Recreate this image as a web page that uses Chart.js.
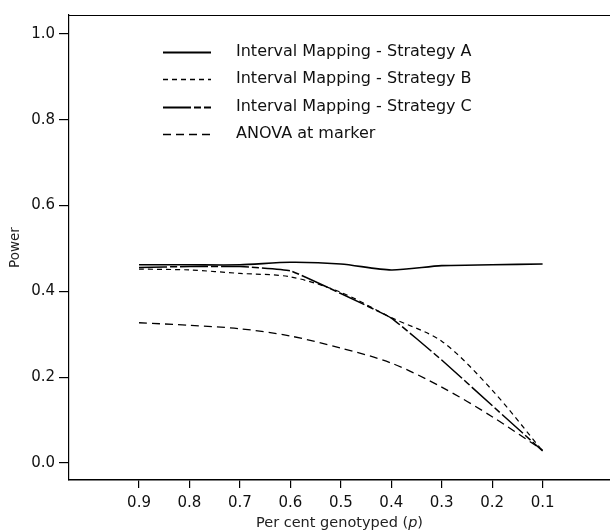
<!DOCTYPE html>
<html><head><meta charset="utf-8">
<script src="https://cdn.jsdelivr.net/npm/chart.js@4.4.0/dist/chart.umd.min.js"></script>
<style>html,body{margin:0;padding:0;background:#fff;} #wrap{width:610px;height:531px;position:relative;}</style>
</head><body><div id="wrap"><canvas id="c" width="610" height="531"></canvas></div>
<script>
// Proportion genotyped (x categories, plotted on a reversed axis)
const proportions = [0.9, 0.8, 0.7, 0.6, 0.5, 0.4, 0.3, 0.2, 0.1];
// Power for each method
const strategyA = [0.462, 0.462, 0.462, 0.468, 0.464, 0.450, 0.460, 0.462, 0.464];
const strategyB = [0.452, 0.450, 0.442, 0.434, 0.398, 0.339, 0.284, 0.170, 0.028];
const strategyC = [0.456, 0.458, 0.458, 0.448, 0.395, 0.338, 0.240, 0.134, 0.028];
const anova     = [0.327, 0.321, 0.313, 0.296, 0.268, 0.233, 0.177, 0.108, 0.030];
const yTicks = [0.0, 0.2, 0.4, 0.6, 0.8, 1.0];
const seriesNames = ["Interval Mapping - Strategy A", "Interval Mapping - Strategy B", "Interval Mapping - Strategy C", "ANOVA at marker"];
const xTitle = ["Per cent genotyped (", "p", ")"];
const yTitle = "Power";

const FONT = "'DejaVu Sans', sans-serif";
const toPts = arr => arr.map((v, i) => ({x: proportions[i], y: v}));

const styles = [
  {borderWidth: 1.6, borderDash: [], tension: 0.25},
  {borderWidth: 1.2, borderDash: [5, 4], tension: 0.3},
  {borderWidth: 1.5, borderDash: [28, 3, 7, 3], tension: 0.1},
  {borderWidth: 1.3, borderDash: [8, 5], tension: 0.3}
];
const seriesData = [strategyA, strategyB, strategyC, anova];

const datasets = seriesData.map((d, i) => Object.assign({
  label: seriesNames[i],
  data: toPts(d),
  borderColor: '#000',
  backgroundColor: '#000',
  pointRadius: 0,
  fill: false
}, styles[i]));

const decor = {
  id: 'decor',
  afterDraw(chart) {
    const ctx = chart.ctx, ca = chart.chartArea;
    ctx.save();
    // top border
    ctx.strokeStyle = '#000'; ctx.lineWidth = 1.2; ctx.setLineDash([]);
    ctx.beginPath(); ctx.moveTo(ca.left, ca.top + 0.5); ctx.lineTo(chart.width, ca.top + 0.5); ctx.stroke();
    // legend
    const rows = [52, 79, 107, 134];
    ctx.font = "16px " + FONT; ctx.fillStyle = '#111'; ctx.textBaseline = 'middle'; ctx.textAlign = 'left';
    chart.data.datasets.forEach((ds, i) => {
      const y = rows[i] + 0.5;
      ctx.strokeStyle = '#000'; ctx.lineWidth = i === 0 || i === 2 ? 2 : 1.3;
      ctx.setLineDash(ds.borderDash || []);
      ctx.beginPath(); ctx.moveTo(163, y); ctx.lineTo(211, y); ctx.stroke();
      ctx.setLineDash([]);
      ctx.fillText(ds.label, 236, rows[i]);
    });
    // x title with italic p
    ctx.fillStyle = '#222'; ctx.textBaseline = 'middle';
    const fN = "14.5px " + FONT, fI = "italic 14.5px " + FONT;
    ctx.font = fN; const w1 = ctx.measureText(xTitle[0]).width, w3 = ctx.measureText(xTitle[2]).width;
    ctx.font = fI; const w2 = ctx.measureText(xTitle[1]).width;
    const cx = (ca.left + ca.right) / 2; let x0 = cx - (w1 + w2 + w3) / 2; const ty = 523;
    ctx.font = fN; ctx.fillText(xTitle[0], x0, ty); x0 += w1;
    ctx.font = fI; ctx.fillText(xTitle[1], x0, ty); x0 += w2;
    ctx.font = fN; ctx.fillText(xTitle[2], x0, ty);
    // y title
    ctx.translate(15, (ca.top + ca.bottom) / 2); ctx.rotate(-Math.PI / 2);
    ctx.font = "13.5px " + FONT; ctx.textAlign = 'center'; ctx.fillText(yTitle, 0, 0);
    ctx.restore();
  }
};

new Chart(document.getElementById('c'), {
  type: 'line',
  data: {datasets},
  options: {
    responsive: false, animation: false, devicePixelRatio: 1,
    layout: {padding: {top: 15, left: 0, right: 0, bottom: 0}},
    plugins: {legend: {display: false}, tooltip: {enabled: false}},
    scales: {
      x: {
        type: 'linear', reverse: true, min: -0.0336, max: 1.0388,
        afterBuildTicks: s => { s.ticks = proportions.map(v => ({value: v})); },
        afterFit: s => { s.height = 51; },
        ticks: {autoSkip: false, maxRotation: 0, padding: 6, color: '#111', font: {family: FONT, size: 15}, callback: v => Number(v).toFixed(1)},
        grid: {display: true, drawOnChartArea: false, drawTicks: true, tickLength: 8, color: '#000', lineWidth: 1.2},
        border: {display: true, color: '#000', width: 1.4}
      },
      y: {
        type: 'linear', min: -0.0396, max: 1.0443,
        afterBuildTicks: s => { s.ticks = yTicks.map(v => ({value: v})); },
        afterFit: s => { s.width = 69; },
        ticks: {padding: 4, color: '#111', font: {family: FONT, size: 15}, callback: v => Number(v).toFixed(1)},
        grid: {display: true, drawOnChartArea: false, drawTicks: true, tickLength: 10, color: '#000', lineWidth: 1.2},
        border: {display: true, color: '#000', width: 1.2}
      }
    }
  },
  plugins: [decor]
});
</script>
</body></html>
